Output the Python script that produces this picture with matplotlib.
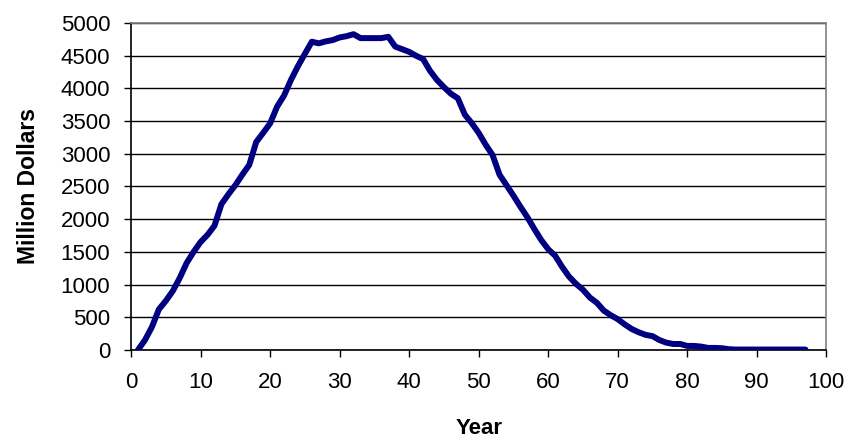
import matplotlib
matplotlib.use('Agg')
import matplotlib.pyplot as plt

# Year-by-year values
years = list(range(1, 98))
million_dollars = [
    0, 150, 350, 620, 750, 900, 1100, 1330, 1500, 1650,
    1760, 1900, 2230, 2380, 2520, 2680, 2830, 3180, 3320, 3465,
    3720, 3890, 4130, 4340, 4530, 4715, 4690, 4720, 4740, 4780,
    4800, 4830, 4770, 4770, 4770, 4770, 4790, 4640, 4600, 4560,
    4500, 4450, 4270, 4130, 4020, 3920, 3850, 3600, 3470, 3320,
    3140, 2980, 2680, 2520, 2360, 2190, 2030, 1850, 1680, 1540,
    1440, 1270, 1120, 1010, 920, 800, 720, 600, 530, 470,
    390, 320, 270, 230, 210, 150, 110, 90, 90, 60,
    60, 50, 30, 30, 25, 10, 5, 5, 5, 5,
    5, 5, 5, 5, 5, 5, 5,
]

x_ticks = list(range(0, 101, 10))
y_ticks = list(range(0, 5001, 500))

plt.rcParams['font.family'] = ['Liberation Sans', 'DejaVu Sans']

fig = plt.figure(figsize=(8.51, 4.44), dpi=100)
ax = fig.add_axes([0.154, 0.212, 0.817, 0.736])

ax.plot(years, million_dollars, color='#000080', linewidth=4.3,
        solid_joinstyle='round', solid_capstyle='round', zorder=3)

ax.set_xlim(0, 100)
ax.set_ylim(0, 5000)
ax.set_xticks(x_ticks)
ax.set_yticks(y_ticks)
ax.tick_params(axis='both', direction='out', length=5, width=1, labelsize=16)
ax.tick_params(axis='x', pad=11)
ax.tick_params(axis='y', pad=10)

ax.grid(axis='y', color='black', linewidth=1)
ax.set_axisbelow(True)

ax.spines['left'].set_color('black')
ax.spines['bottom'].set_color('black')
ax.spines['top'].set_color('#808080')
ax.spines['right'].set_color('#808080')
for s in ax.spines.values():
    s.set_linewidth(1.2)

ax.set_xlabel('Year', fontsize=16, fontweight='bold', va='center')
ax.set_ylabel('Million Dollars', fontsize=16.5, fontweight='bold', va='center')
ax.xaxis.set_label_coords(0.5, -0.24)
ax.yaxis.set_label_coords(-0.148, 0.5)

fig.savefig('out.png', dpi=100)
